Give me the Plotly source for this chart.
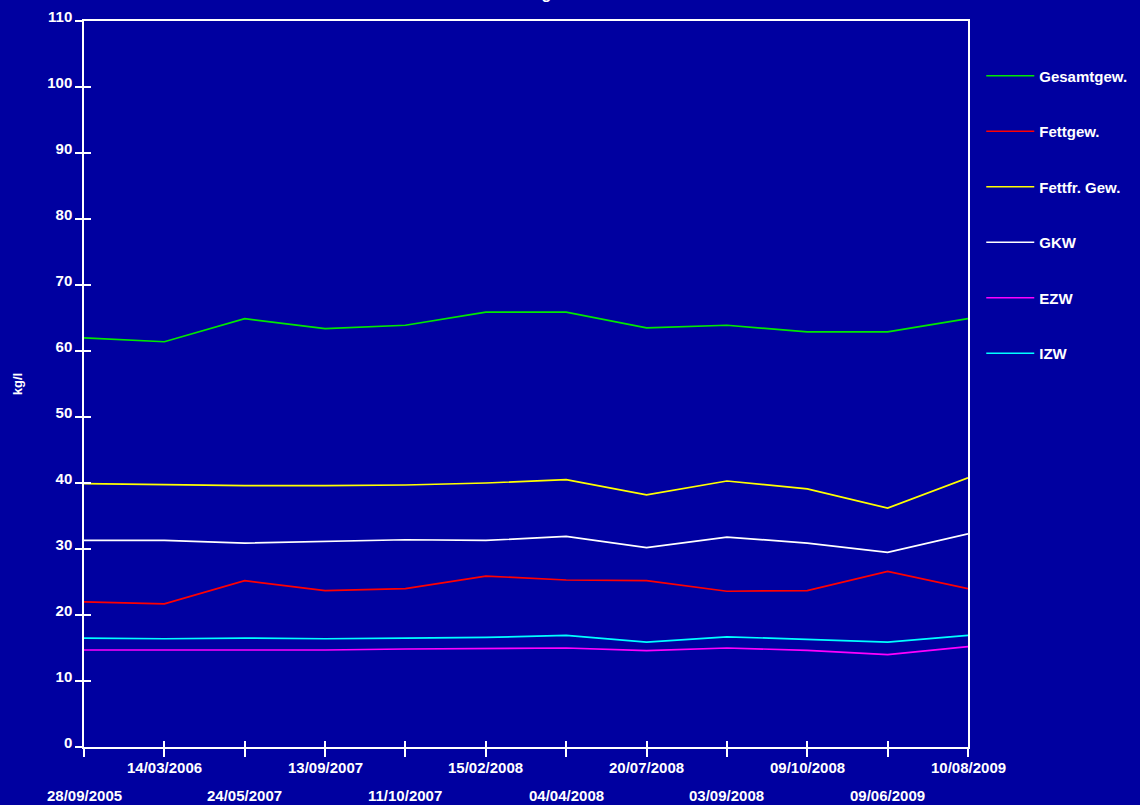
import plotly.graph_objects as go

dates = ["28/09/2005", "14/03/2006", "24/05/2007", "13/09/2007", "11/10/2007", "15/02/2008",
         "04/04/2008", "20/07/2008", "03/09/2008", "09/10/2008", "09/06/2009", "10/08/2009"]

gesamtgew = [62.0, 61.4, 64.9, 63.4, 63.9, 65.9, 65.9, 63.5, 63.9, 62.9, 62.9, 64.9]
fettgew = [22.0, 21.7, 25.2, 23.7, 24.0, 25.9, 25.3, 25.2, 23.6, 23.7, 26.6, 24.0]
fettfr_gew = [39.9, 39.7, 39.6, 39.6, 39.7, 40.0, 40.5, 38.2, 40.3, 39.1, 36.2, 40.8]
gkw = [31.3, 31.3, 30.9, 31.1, 31.4, 31.3, 31.9, 30.2, 31.8, 30.9, 29.5, 32.3]
ezw = [14.7, 14.7, 14.6, 14.7, 14.85, 14.9, 15.0, 14.6, 15.0, 14.65, 14.0, 15.2]
izw = [16.5, 16.4, 16.5, 16.4, 16.5, 16.6, 16.9, 15.9, 16.7, 16.3, 15.9, 16.9]

series_names = ["Gesamtgew.", "Fettgew.", "Fettfr. Gew.", "GKW", "EZW", "IZW"]
series_values = [gesamtgew, fettgew, fettfr_gew, gkw, ezw, izw]
series_colors = ["#00e800", "#ff0000", "#ffff00", "#ffffff", "#ff00ff", "#00ffff"]

y_ticks = list(range(0, 111, 10))
title_text = "Messungen"
y_title = "kg/l"

BG = "#0000a0"
FONT = "Arial, Liberation Sans, sans-serif"

fig = go.Figure()
for name, vals, col in zip(series_names, series_values, series_colors):
    fig.add_trace(go.Scatter(x=dates, y=vals, mode="lines", name=name,
                             legendgroup=name,
                             line=dict(color=col, width=1.7)))

# Two-row date labels
annotations = []
for i, d in enumerate(dates):
    annotations.append(dict(x=d, xref="x", y=0, yref="paper", text=d,
                            showarrow=False, xanchor="center", yanchor="middle",
                            yshift=-20 if i % 2 == 1 else -48,
                            font=dict(color="white", size=15, family=FONT, weight="bold")))
annotations.append(dict(x=0.5, xref="paper", y=1, yref="paper", text=title_text,
                        showarrow=False, xanchor="center", yanchor="bottom", yshift=17,
                        font=dict(color="white", size=16, family=FONT, weight="bold")))

fig.update_layout(
    width=1140, height=805,
    margin=dict(l=84, r=172, t=21, b=58, autoexpand=False),
    paper_bgcolor=BG, plot_bgcolor=BG,
    font=dict(family=FONT, color="white", size=15, weight="bold"),
    showlegend=True,
    legend=dict(x=1.015, xanchor="left", y=0.947, yanchor="top",
                font=dict(size=15, color="white", family=FONT, weight="bold"),
                tracegroupgap=33, itemwidth=48, bgcolor="rgba(0,0,0,0)"),
    annotations=annotations,
    xaxis=dict(type="category", range=[0, len(dates) - 1], showgrid=False, zeroline=False,
               showline=True, linecolor="white", linewidth=1.5, mirror=True,
               ticks="outside", ticklen=8, tickcolor="white", tickwidth=1.5,
               showticklabels=False),
    xaxis2=dict(overlaying="x", range=[0, len(dates) - 1], tickmode="linear", tick0=0, dtick=1,
                showgrid=False, zeroline=False, showline=False, ticks="inside", ticklen=6,
                tickcolor="white", tickwidth=1.5, showticklabels=False),
    yaxis=dict(range=[0, 110], tickvals=y_ticks, showgrid=False, zeroline=False,
               showline=True, linecolor="white", linewidth=1.5, mirror=True,
               ticks="outside", ticklen=7, tickcolor="white", tickwidth=1.5,
               ticklabelshift=-4,
               tickfont=dict(size=15, color="white", family=FONT, weight="bold"),
               title=dict(text=y_title, standoff=22,
                          font=dict(size=13, color="white", family=FONT, weight="bold"))),
    yaxis2=dict(overlaying="y", range=[0, 110], tickvals=y_ticks, showgrid=False,
                zeroline=False, showline=False, ticks="inside", ticklen=7,
                tickcolor="white", tickwidth=1.5, showticklabels=False),
)
# invisible trace to activate the secondary (tick-only) axes
fig.add_trace(go.Scatter(x=[0], y=[0], xaxis="x2", yaxis="y2", mode="markers",
                         marker=dict(opacity=0), showlegend=False, hoverinfo="skip"))

fig.write_html("out.html", config={"displayModeBar": False},
               post_script="document.body.style.margin='0';document.body.style.background='%s';" % BG)
